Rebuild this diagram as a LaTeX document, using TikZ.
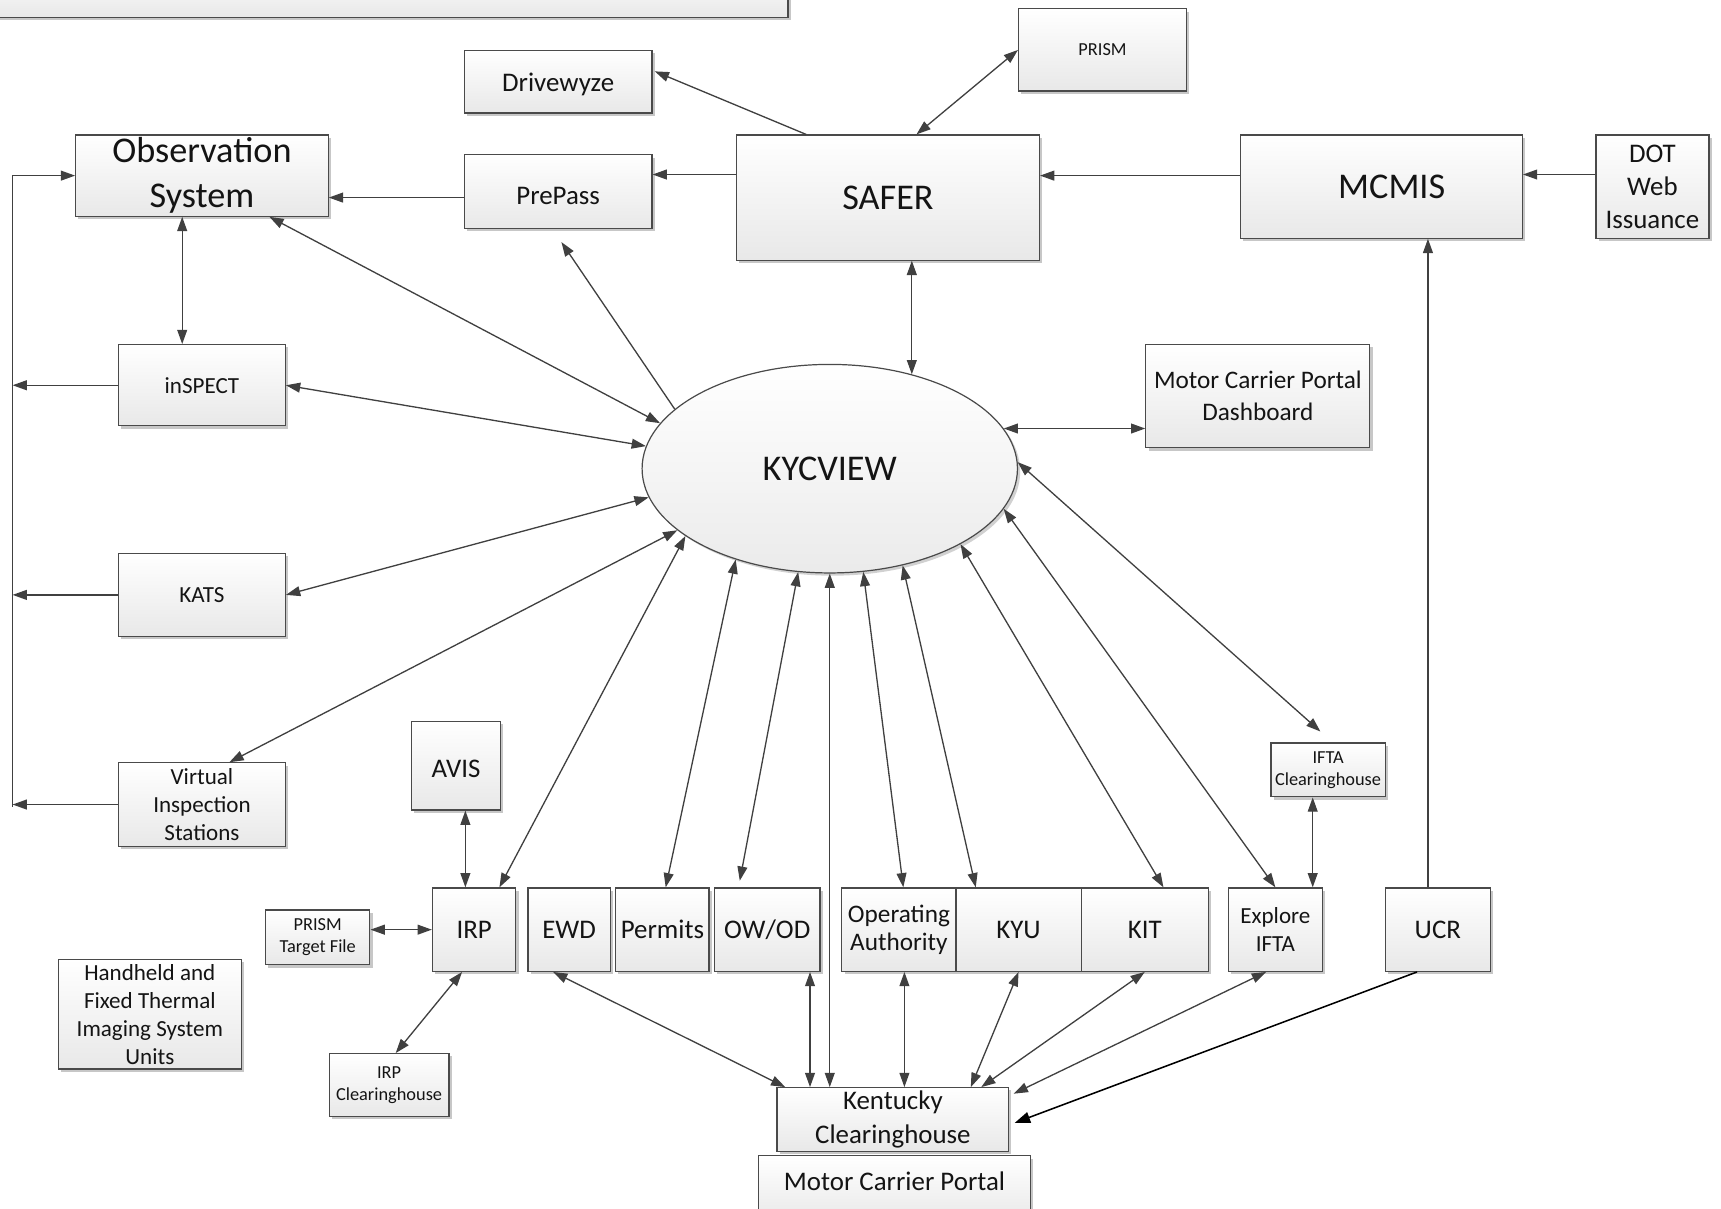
\documentclass[tikz,border=0pt]{standalone}
\usepackage{fontspec}
\setmainfont{Carlito}
\usetikzlibrary{arrows.meta,shapes.geometric,shadows,calc}
\definecolor{lc}{HTML}{404040}
\definecolor{bc}{HTML}{4A4A4A}
\definecolor{tc}{HTML}{141414}
\begin{document}
\begin{tikzpicture}[x=1pt,y=-1pt,
  box/.style={rectangle, draw=bc, line width=1.1pt, top color=white, bottom color=black!9,
    drop shadow={shadow xshift=2.5pt, shadow yshift=-2.5pt, fill=black!22, opacity=1},
    inner sep=0pt, align=center, text=tc},
  wh/.style 2 args={minimum width=#1pt, minimum height=#2pt},
  arr/.style={draw=lc, line width=1.2pt, -{Triangle[length=13pt,width=9pt]}},
  darr/.style={draw=lc, line width=1.2pt, {Triangle[length=13pt,width=9pt]}-{Triangle[length=13pt,width=9pt]}},
  fXL/.style={font=\fontsize{33}{41}\selectfont},
  fL/.style={font=\fontsize{24.5}{30}\selectfont},
  fM/.style={font=\fontsize{23}{27}\selectfont},
  fS/.style={font=\fontsize{21}{25.5}\selectfont},
  fXS/.style={font=\fontsize{16.7}{20.5}\selectfont},
]
\useasboundingbox (0,0) rectangle (1568,1101);

% ---------- nodes ----------
\node[box, wh={728}{46}] (topbox) at (354,-7) {};
\node[box, fL, wh={171}{57}] (drive) at (508.5,74.5) {\raisebox{-2pt}[\height][\depth]{Drivewyze}};
\node[box, fXS, wh={153}{75}] (prism) at (1004.5,45.5) {PRISM};
\node[box, fXL, wh={230}{74}] (obs) at (184,160) {Observation\\System};
\node[box, fL, wh={171}{67}] (prepass) at (508.5,174.5) {\raisebox{-4pt}[\height][\depth]{PrePass}};
\node[box, fXL, wh={276}{114}] (safer) at (809,180) {SAFER};
\node[box, fXL, wh={257}{94}] (mcmis) at (1258.5,170) {\hspace*{19pt}MCMIS};
\node[box, fL, wh={103}{94}] (dot) at (1505.5,170) {DOT\\Web\\Issuance};
\node[box, fS, wh={152}{74}] (inspect) at (184,351) {inSPECT};
\node[box, fS, wh={152}{76}] (kats) at (184,542) {KATS};
\node[box, fS, wh={152}{76}] (vis) at (184,733) {Virtual\\Inspection\\Stations};
\node[box, wh={204}{94}, font=\fontsize{23}{29}\selectfont] (mcpd) at (1146,361) {Motor Carrier Portal\\Dashboard};
\node[ellipse, draw=bc, line width=1.1pt, top color=white, bottom color=black!8,
  drop shadow={shadow xshift=2.5pt, shadow yshift=-2.5pt, fill=black!18, opacity=1},
  minimum width=342pt, minimum height=190pt, inner sep=0pt, text=tc, fXL] (kyc) at (756,427) {KYCVIEW};
\node[box, fL, wh={81}{81}] (avis) at (415.5,697.5) {\raisebox{-3pt}[\height][\depth]{AVIS}};
\node[box, fXS, wh={104}{49}] (iftach) at (1210,701.5) {IFTA\\Clearinghouse};
\node[box, fXS, wh={95}{50}] (ptf) at (289.5,854) {PRISM\\Target File};
\node[box, fL, wh={76}{76}] (irp) at (432,847) {IRP};
\node[box, fL, wh={75}{76}] (ewd) at (518.5,847) {EWD};
\node[box, fL, wh={85}{76}] (permits) at (603.5,847) {Permits};
\node[box, fL, wh={96}{76}] (owod) at (699,847) {OW/OD};
\node[box, wh={104}{76}, font=\fontsize{23}{26}\selectfont] (opauth) at (819,847) {Operating\\Authority};
\node[box, fL, wh={114}{76}] (kyu) at (928,847) {KYU};
\node[box, fL, wh={116}{76}] (kit) at (1043,847) {KIT};
\node[box, fS, wh={86}{76}] (explore) at (1162,847) {Explore\\IFTA};
\node[box, fL, wh={96}{76}] (ucr) at (1310,847) {UCR};
\node[box, fS, wh={167}{100}] (handheld) at (136.5,924) {Handheld and\\Fixed Thermal\\Imaging System\\Units};
\node[box, fXS, wh={109}{57}] (irpch) at (354.5,988.5) {IRP\\Clearinghouse};
\node[box, wh={211}{58}, font=\fontsize{24.5}{31}\selectfont] (kc) at (813.5,1020) {Kentucky\\Clearinghouse};
\node[box, fL, wh={248}{62}] (mcp) at (815,1084) {\raisebox{8pt}[\height][\depth]{Motor Carrier Portal}};

% ---------- top connectors ----------
\draw[arr] ($(safer.north west)+(64,0)$) -- ($(drive.east)+(2,-9.5)$);
\draw[darr] ($(safer.north)+(26,0)$) -- (prism.west);
\coordinate (s1) at ($(safer.west)+(0,-21)$);
\draw[arr] (s1) -- (s1 -| prepass.east);
\coordinate (p1) at ($(prepass.west)+(0,5.5)$);
\draw[arr] (p1) -- (p1 -| obs.east);
\coordinate (m1) at ($(mcmis.west)+(0,-10)$);
\draw[arr] (m1) -- (m1 -| safer.east);
\coordinate (d1) at ($(dot.west)+(0,-11)$);
\draw[arr] (d1) -- (d1 -| mcmis.east);
\coordinate (u1) at ($(ucr.north)+(-9,0)$);
\draw[arr] (u1) -- (u1 |- mcmis.south);

% ---------- KYCVIEW connectors ----------
\draw[darr] (kyc.49) -- (kyc.49 |- safer.south);
\draw[darr] (kyc.13) -- (kyc.13 -| mcpd.west);
\draw[darr] (kyc.165) -- ($(obs.south west)+(177,0)$);
\draw[arr] (kyc.159) -- ($(prepass.south)+(3,12)$);
\draw[darr] (kyc.173) -- (inspect.east);
\draw[darr] (kyc.189) -- (kats.east);
\draw[darr] (kyc.202) -- ($(vis.north)+(25,0)$);
\draw[darr] (kyc.205) -- ($(irp.north)+(23,0)$);
\draw[darr] (kyc.224) -- ($(permits.north)+(3,0)$);
\draw[darr] (kyc.253) -- ($(owod.north)+(-25,-6)$);
\draw[darr] (kyc.270) -- (kyc.270 |- kc.north);
\draw[darr] (kyc.288) -- ($(opauth.north)+(4,0)$);
\draw[darr] (kyc.307) -- ($(kyu.north)+(-39,0)$);
\draw[darr] (kyc.330) -- ($(kit.north)+(17,0)$);
\draw[darr] (kyc.347) -- (explore.north);
\draw[darr] (kyc.2) -- ($(iftach.north)+(-7,-10)$);

% ---------- bottom connectors ----------
\coordinate (a1) at ($(avis.south)+(8.5,0)$);
\draw[darr] (a1) -- (a1 |- irp.north);
\draw[darr] (irp.west) -- (irp.west -| ptf.east);
\draw[darr] ($(irp.south)+(-11,0)$) -- ($(irpch.north)+(6,0)$);
\draw[darr] ($(ewd.south)+(-14.5,0)$) -- ($(kc.north west)+(8,0)$);
\coordinate (o1) at ($(owod.south)+(39,0)$);
\draw[darr] (o1) -- (o1 |- kc.north);
\coordinate (q1) at ($(opauth.south)+(5,0)$);
\draw[darr] (q1) -- (q1 |- kc.north);
\draw[darr] (kyu.south) -- ($(kc.north)+(71,0)$);
\draw[darr] (kit.south) -- ($(kc.north)+(80.5,0)$);
\draw[darr] ($(explore.south)+(-8.5,0)$) -- ($(kc.north east)+(4,6)$);
\draw[draw=black, line width=1.4pt, -{Triangle[length=14pt,width=10pt]}] ($(ucr.south)+(-19,0)$) -- ($(kc.east)+(5,3)$);
\coordinate (i1) at ($(iftach.south)+(-14,0)$);
\draw[darr] (i1) -- (i1 |- explore.north);

% ---------- left bus ----------
\coordinate (bustop) at ($(obs.west)+(-57,0)$);
\coordinate (busbot) at ($(vis.west)+(-96,2)$);
\draw[arr] (busbot) -- (bustop) -- (obs.west);
\draw[arr] (inspect.west) -- (inspect.west -| bustop);
\draw[arr] (kats.west) -- (kats.west -| bustop);
\draw[arr] (vis.west) -- (vis.west -| bustop);
\coordinate (ob1) at ($(obs.south)+(-18,0)$);
\draw[darr] (ob1) -- (ob1 |- inspect.north);
\end{tikzpicture}
\end{document}
